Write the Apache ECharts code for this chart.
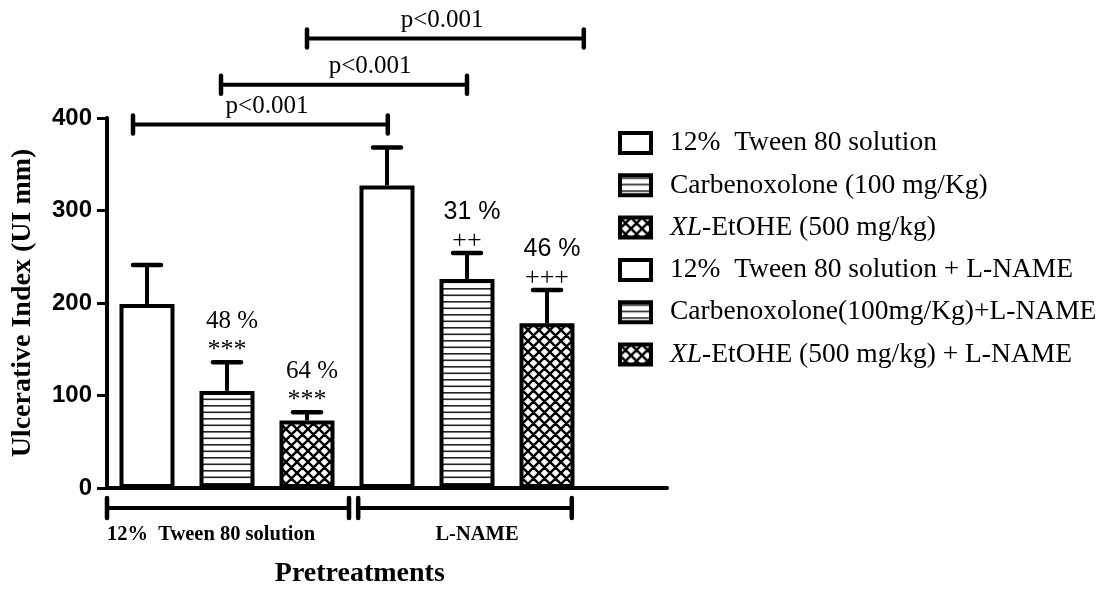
<!DOCTYPE html>
<html><head><meta charset="utf-8">
<script src="https://cdn.jsdelivr.net/npm/echarts@6/dist/echarts.min.js"></script>
<style>html,body{margin:0;padding:0;background:#fff}#c{width:1105px;height:590px}</style>
</head><body><div id="c"></div>
<script>
// ---- data ----
const categories = ['g1', 'g2', 'g3', 'g4', 'g5', 'g6', 'g7'];
const seriesNames = [
  '12%  Tween 80 solution',
  'Carbenoxolone (100 mg/Kg)',
  'XL-EtOHE (500 mg/kg)',
  '12%  Tween 80 solution + L-NAME',
  'Carbenoxolone(100mg/Kg)+L-NAME',
  'XL-EtOHE (500 mg/kg) + L-NAME'
];
const means = [199, 105, 73, 327, 226, 178];
const errTops = [241, 136, 82, 368, 254, 214];
const pctLabels = ['', '48 %', '64 %', '', '31 %', '46 %'];
const sigLabels = ['', '***', '***', '', '++', '+++'];
const yTicks = [0, 100, 200, 300, 400];
const comparisons = [[0, 3], [1, 4], [2, 5]];
const compLabel = 'p<0.001';
const groupLabels = ['12%  Tween 80 solution', 'L-NAME'];
const xTitle = 'Pretreatments';
const yTitle = 'Ulcerative Index (UI mm)';

// ---- styles / layout ----
const SERIF = '"Liberation Serif", "Times New Roman", serif';
const SANS = '"Liberation Sans", Arial, sans-serif';
const pctFonts = [SERIF, SERIF, SERIF, SANS, SANS, SANS];
const compLayout = [
  {from: -0.175, to: 3.01, y: 393, labelAt: 1.5},
  {from: 0.925, to: 4.0, y: 436, labelAt: 2.79},
  {from: 2.0, to: 5.46, y: 486, labelAt: 3.69}
];
const groupLayout = [
  {from: -0.5, to: 2.525, labelAt: -0.5, align: 'left'},
  {from: 2.64, to: 5.31, labelAt: 4.125, align: 'center'}
];

function stripePattern() {
  const c = document.createElement('canvas');
  c.width = 4; c.height = 13;
  const g = c.getContext('2d');
  g.fillStyle = '#fff'; g.fillRect(0, 0, 4, 13);
  g.fillStyle = '#222';
  g.fillRect(0, 2, 4, 1.6);
  g.fillRect(0, 8.5, 4, 1.6);
  return c;
}
function crossPattern() {
  const s = 11;
  const c = document.createElement('canvas');
  c.width = s; c.height = s;
  const g = c.getContext('2d');
  g.fillStyle = '#fff'; g.fillRect(0, 0, s, s);
  g.strokeStyle = '#000'; g.lineWidth = 2.4;
  g.beginPath();
  for (const k of [-s, 0, s]) {
    g.moveTo(k, 0); g.lineTo(k + s, s);
    g.moveTo(k + s, 0); g.lineTo(k, s);
  }
  g.stroke();
  return c;
}
const stripe = {image: stripePattern(), repeat: 'repeat'};
const cross = {image: crossPattern(), repeat: 'repeat'};
const fills = ['#fff', stripe, cross, '#fff', stripe, cross];

const chart = echarts.init(document.getElementById('c'), null, {renderer: 'canvas'});

const barSeries = seriesNames.map((n, i) => ({
  type: 'bar',
  name: n,
  data: categories.map((c, j) => (j === i ? means[i] : '-')),
  barWidth: 55,
  barGap: '-100%',
  silent: true,
  itemStyle: {color: fills[i], borderColor: '#000', borderWidth: 4},
  z: 2
}));

const errSeries = {
  type: 'custom',
  name: 'err',
  silent: true,
  clip: false,
  z: 5,
  data: means.map((m, i) => [i, m, errTops[i]]),
  renderItem(params, api) {
    const i = api.value(0);
    const b = api.coord([i, api.value(1)]);
    const t = api.coord([i, api.value(2)]);
    const cw = 14;
    const ch = [
      {type: 'line', shape: {x1: b[0], y1: b[1], x2: t[0], y2: t[1]}, style: {stroke: '#000', lineWidth: 4}},
      {type: 'line', shape: {x1: t[0] - cw, y1: t[1], x2: t[0] + cw, y2: t[1]}, style: {stroke: '#000', lineWidth: 4.5, lineCap: 'round'}}
    ];
    if (sigLabels[i]) {
      ch.push({type: 'text', x: t[0], y: t[1] - 12, style: {text: sigLabels[i], font: '26px ' + SERIF, fill: '#000', align: 'center', textAlign: 'center', verticalAlign: 'middle', textVerticalAlign: 'middle'}});
    }
    if (pctLabels[i]) {
      ch.push({type: 'text', x: t[0] + 5, y: t[1] - 41, style: {text: pctLabels[i], font: '25px ' + pctFonts[i], fill: '#000', align: 'center', textAlign: 'center', verticalAlign: 'middle', textVerticalAlign: 'middle'}});
    }
    return {type: 'group', children: ch};
  }
};

chart.setOption({
  animation: false,
  backgroundColor: '#fff',
  grid: {left: 107, right: 438, top: 118, bottom: 102, containLabel: false},
  legend: {
    orient: 'vertical',
    left: 613, top: 124,
    itemWidth: 31, itemHeight: 20, itemGap: 14.3,
    icon: 'rect',
    selectedMode: false,
    data: seriesNames,
    itemStyle: {borderColor: '#000', borderWidth: 4},
    formatter: name => name.replace(/^XL/, '{i|XL}'),
    textStyle: {
      fontFamily: SERIF, fontSize: 27.5, color: '#000', padding: [0, 0, 0, 14],
      rich: {i: {fontFamily: SERIF, fontSize: 27.5, fontStyle: 'italic', color: '#000'}}
    }
  },
  xAxis: {
    type: 'category',
    data: categories,
    boundaryGap: true,
    axisLine: {lineStyle: {color: '#000', width: 4}},
    axisTick: {alignWithLabel: true, interval: 0, length: 9, lineStyle: {color: '#000', width: 3}},
    axisLabel: {show: false},
    splitLine: {show: false}
  },
  yAxis: {
    type: 'value',
    min: yTicks[0], max: yTicks[yTicks.length - 1], interval: yTicks[1] - yTicks[0],
    name: yTitle,
    nameLocation: 'middle',
    nameGap: 70,
    nameTextStyle: {fontFamily: SERIF, fontWeight: 'bold', fontSize: 28, color: '#000'},
    axisLine: {show: true, lineStyle: {color: '#000', width: 4}},
    axisTick: {show: true, length: 10, lineStyle: {color: '#000', width: 3}},
    axisLabel: {fontFamily: SANS, fontWeight: 'bold', fontSize: 24, color: '#000', margin: 15},
    splitLine: {show: false}
  },
  series: [...barSeries, errSeries]
});

// ---- annotations through the axes ----
const cx = v => {
  const p0 = chart.convertToPixel({xAxisIndex: 0}, 0);
  const p1 = chart.convertToPixel({xAxisIndex: 0}, 1);
  return p0 + (p1 - p0) * v;
};
const vy = v => chart.convertToPixel({yAxisIndex: 0}, v);
const g = [];
function bracket(x1, x2, y, capH) {
  g.push({type: 'line', shape: {x1, y1: y, x2, y2: y}, style: {stroke: '#000', lineWidth: 4}, z: 10});
  g.push({type: 'line', shape: {x1, y1: y - capH / 2, x2: x1, y2: y + capH / 2}, style: {stroke: '#000', lineWidth: 4.5, lineCap: 'round'}, z: 10});
  g.push({type: 'line', shape: {x1: x2, y1: y - capH / 2, x2, y2: y + capH / 2}, style: {stroke: '#000', lineWidth: 4.5, lineCap: 'round'}, z: 10});
}
comparisons.forEach((c, k) => {
  const L = compLayout[k];
  const y = vy(L.y);
  bracket(cx(L.from), cx(L.to), y, 18);
  g.push({type: 'text', x: cx(L.labelAt), y: y - 18, z: 10,
    style: {text: compLabel, font: '25px ' + SERIF, fill: '#000', align: 'center', textAlign: 'center', verticalAlign: 'middle', textVerticalAlign: 'middle'}});
});
const axisY = vy(0);
groupLabels.forEach((lab, k) => {
  const L = groupLayout[k];
  bracket(cx(L.from), cx(L.to), axisY + 20, 20);
  g.push({type: 'text', x: cx(L.labelAt), y: axisY + 47, z: 10,
    style: {text: lab, font: 'bold 20.5px ' + SERIF, fill: '#000', align: L.align, textAlign: L.align, verticalAlign: 'middle', textVerticalAlign: 'middle'}});
});
g.push({type: 'text', x: cx(2.66), y: axisY + 86, z: 10,
  style: {text: xTitle, font: 'bold 28px ' + SERIF, fill: '#000', align: 'center', textAlign: 'center', verticalAlign: 'middle', textVerticalAlign: 'middle'}});
chart.setOption({graphic: {elements: g}});
</script>
</body></html>
